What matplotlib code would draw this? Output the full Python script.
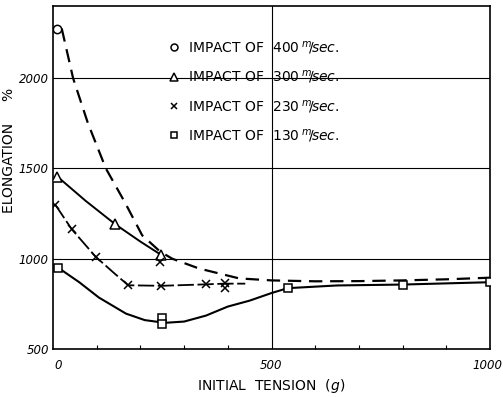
import numpy as np
import matplotlib
matplotlib.use("Agg")
import matplotlib.pyplot as plt
import matplotlib.transforms as mtransforms
from matplotlib.lines import Line2D

# --- measured points (initial tension in g, elongation in %) ---
v400_x = [10]
v400_y = [2270]
v400_curve_x = [20, 46, 80, 121, 165, 204, 245, 273, 334, 426, 500, 600, 700, 800, 900, 1000]
v400_curve_y = [2275, 2000, 1750, 1500, 1310, 1130, 1040, 1000, 946, 891, 880, 875, 876, 880, 886, 895]

v300_x = [10, 143, 247]
v300_y = [1455, 1190, 1022]
v300_curve_x = [10, 75, 143, 200, 247]
v300_curve_y = [1455, 1320, 1190, 1095, 1022]

v230_x = [5, 43, 98, 172, 248, 245, 349, 393, 393]
v230_y = [1300, 1163, 1010, 853, 850, 980, 858, 864, 837]
v230_curve_x = [5, 43, 98, 140, 172, 248, 349, 393, 440]
v230_curve_y = [1300, 1163, 1010, 920, 853, 850, 858, 862, 862]

v130_x = [12, 250, 250, 537, 801, 1000]
v130_y = [951, 674, 641, 837, 853, 870]
v130_curve_x = [12, 60, 105, 167, 210, 256, 300, 350, 400, 450, 500, 537, 650, 800, 1000]
v130_curve_y = [950, 870, 785, 696, 660, 645, 652, 685, 735, 768, 810, 837, 852, 857, 870]

speeds = ["400", "300", "230", "130"]

plt.rcParams["font.family"] = ["DejaVu Sans"]
plt.rcParams["mathtext.fontset"] = "dejavusans"

fig = plt.figure(figsize=(5.03, 3.97), dpi=100)
ax = fig.add_axes([53 / 503, 48 / 397, 437 / 503, 343 / 397])

ax.plot(v400_curve_x, v400_curve_y, color="black", lw=1.6, dashes=(6, 3.5))
ax.plot(v300_curve_x, v300_curve_y, color="black", lw=1.4)
ax.plot(v230_curve_x, v230_curve_y, color="black", lw=1.3, dashes=(9, 2))
ax.plot(v130_curve_x, v130_curve_y, color="black", lw=1.5)

mk = dict(color="black", ls="none", mfc="white", mew=1.1, zorder=3)
ax.plot(v400_x, v400_y, marker="o", ms=6, **mk)
ax.plot(v300_x, v300_y, marker="^", ms=7, **mk)
ax.plot(v230_x, v230_y, marker="x", ms=6, **mk)
ax.plot(v130_x, v130_y, marker="s", ms=5.5, **mk)

ax.set_xlim(0, 1000)
ax.set_ylim(500, 2400)
ax.set_xticks([0, 500, 1000])
ax.set_xticklabels(["0", "500", "1000"], fontstyle="italic", fontsize=8.5)
ax.set_xticks(np.arange(100, 1000, 100), minor=True)
ax.set_yticks([500, 1000, 1500, 2000])
ax.set_yticklabels(["500", "1000", "1500", "2000"], fontstyle="italic", fontsize=8.5)
ax.tick_params(axis="x", which="major", length=0, pad=7)
ax.tick_params(axis="x", which="minor", direction="in", length=3, width=0.8)
ax.tick_params(axis="y", length=0, pad=3)

# nudge the end labels like in the original lettering
shifts = [5, 0, -3]
for lbl, dx in zip(ax.get_xticklabels(), shifts):
    lbl.set_transform(lbl.get_transform() +
                      mtransforms.ScaledTranslation(dx / 100, 0, fig.dpi_scale_trans))

for v in [1000, 1500, 2000]:
    ax.axhline(v, color="black", lw=0.8, zorder=0)
ax.axvline(500, color="black", lw=0.8, zorder=0)
for s in ax.spines.values():
    s.set_linewidth(1.2)

ax.set_xlabel(r"INITIAL  TENSION  ($\it{g}$)", fontsize=10, labelpad=4)
ax.set_ylabel("ELONGATION     %", fontsize=10)
ax.yaxis.set_label_coords(-0.085, 0.58)

handles = [
    Line2D([], [], marker="o", ms=5, **mk),
    Line2D([], [], marker="^", ms=6, **mk),
    Line2D([], [], marker="x", ms=5, **mk),
    Line2D([], [], marker="s", ms=5, **mk),
]
labels = [r"IMPACT OF  $\it{" + s + r"}\,^{m}\!/\!\it{sec.}$" for s in speeds]
ax.legend(handles, labels, loc="upper left", bbox_to_anchor=(0.23, 0.94),
          frameon=False, fontsize=10, handletextpad=0.4, labelspacing=0.88,
          handlelength=1.2)

fig.savefig("out.png", dpi=100)
